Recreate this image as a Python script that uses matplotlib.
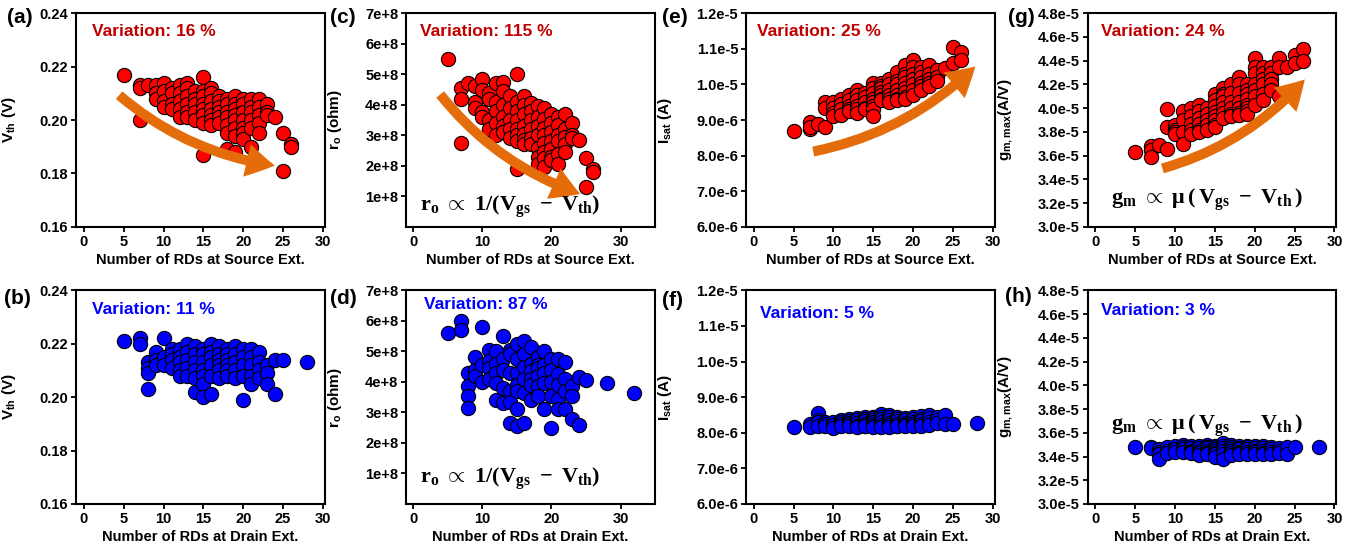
import matplotlib
matplotlib.use('Agg')
import matplotlib.pyplot as plt
from matplotlib.patches import FancyArrowPatch, ArrowStyle

# ---- data: number of RDs (random dopants) per device ----
src_rds = [5, 7, 7, 7, 8, 9, 9, 9, 10, 10, 10, 10, 11, 11, 11, 11,
           12, 12, 12, 12, 12, 13, 13, 13, 13, 13, 13, 14, 14, 14, 14, 14,
           15, 15, 15, 15, 15, 15, 15, 15, 16, 16, 16, 16, 16, 16, 16,
           17, 17, 17, 17, 17, 17, 18, 18, 18, 18, 18, 18, 18,
           19, 19, 19, 19, 19, 19, 19, 19, 20, 20, 20, 20, 20, 20, 20,
           21, 21, 21, 21, 21, 21, 22, 22, 22, 22, 22, 23, 23, 23, 24,
           25, 25, 26, 26]

vth_src = [0.217, 0.213, 0.212, 0.200, 0.213, 0.213, 0.210, 0.208,
           0.214, 0.211, 0.207, 0.205, 0.212, 0.210, 0.206, 0.204,
           0.213, 0.210, 0.207, 0.204, 0.201, 0.214, 0.212, 0.209, 0.206, 0.203, 0.201,
           0.211, 0.208, 0.206, 0.203, 0.200,
           0.216, 0.211, 0.209, 0.206, 0.204, 0.202, 0.199, 0.187,
           0.212, 0.210, 0.207, 0.204, 0.202, 0.200, 0.198,
           0.209, 0.207, 0.205, 0.203, 0.201, 0.199,
           0.208, 0.206, 0.203, 0.201, 0.198, 0.195, 0.189,
           0.209, 0.206, 0.204, 0.202, 0.200, 0.197, 0.194, 0.188,
           0.208, 0.206, 0.203, 0.200, 0.197, 0.195, 0.193,
           0.208, 0.205, 0.203, 0.200, 0.197, 0.190,
           0.208, 0.205, 0.202, 0.199, 0.195, 0.206, 0.203, 0.202, 0.201,
           0.195, 0.181, 0.191, 0.190]

ro_src = [5.5, 4.55, 4.2, 2.75, 4.7, 4.6, 4.1, 3.9,
          4.85, 4.5, 3.75, 3.6, 4.4, 4.2, 3.5, 3.2,
          4.7, 4.1, 3.8, 3.4, 3.0, 4.75, 4.45, 4.0, 3.6, 3.3, 3.1,
          4.3, 3.9, 3.5, 3.2, 2.9,
          5.0, 4.1, 3.8, 3.5, 3.2, 3.0, 2.8, 1.9,
          4.3, 4.0, 3.7, 3.3, 3.05, 2.85, 2.7,
          4.05, 3.8, 3.5, 3.2, 2.9, 2.7,
          3.95, 3.6, 3.3, 3.0, 2.6, 2.3, 2.05,
          3.9, 3.55, 3.25, 3.0, 2.75, 2.45, 2.25, 1.95,
          3.7, 3.4, 3.1, 2.8, 2.55, 2.3, 2.2,
          3.6, 3.35, 3.0, 2.8, 2.4, 2.05,
          3.7, 3.2, 2.95, 2.7, 2.45, 3.4, 3.0, 2.9, 2.85,
          2.25, 1.3, 1.9, 1.8]  # x1e8 ohm

isat_src = [8.7, 8.95, 8.75, 8.8, 8.9, 9.5, 9.35, 8.8,
            9.5, 9.35, 9.2, 9.1, 9.6, 9.45, 9.3, 9.15,
            9.7, 9.55, 9.4, 9.3, 9.25, 9.85, 9.7, 9.55, 9.4, 9.3, 9.2,
            9.75, 9.65, 9.5, 9.35, 9.3,
            10.05, 9.9, 9.75, 9.6, 9.5, 9.4, 9.3, 9.1,
            10.05, 9.95, 9.9, 9.8, 9.7, 9.6, 9.55,
            10.15, 10.0, 9.85, 9.7, 9.6, 9.5,
            10.35, 10.1, 10.0, 9.85, 9.7, 9.6, 9.55,
            10.55, 10.3, 10.2, 10.05, 9.9, 9.8, 9.65, 9.6,
            10.7, 10.5, 10.3, 10.15, 10.0, 9.85, 9.7,
            10.5, 10.35, 10.2, 10.05, 9.95, 9.85,
            10.55, 10.3, 10.15, 10.05, 9.95, 10.4, 10.2, 10.1, 10.45,
            11.05, 10.6, 10.9, 10.7]  # x1e-6 A

gm_src = [3.63, 3.68, 3.65, 3.59, 3.69, 3.99, 3.84, 3.66,
          3.86, 3.82, 3.80, 3.78, 3.98, 3.90, 3.80, 3.70,
          4.00, 3.93, 3.87, 3.82, 3.78, 4.03, 3.98, 3.92, 3.87, 3.82, 3.80,
          4.00, 3.95, 3.90, 3.86, 3.82,
          4.12, 4.07, 4.02, 3.97, 3.93, 3.90, 3.86, 3.84,
          4.17, 4.12, 4.10, 4.05, 4.00, 3.96, 3.92,
          4.20, 4.13, 4.05, 4.00, 3.95, 3.93,
          4.26, 4.20, 4.13, 4.05, 4.00, 3.96, 3.94,
          4.20, 4.15, 4.12, 4.08, 4.03, 4.00, 3.98, 3.95,
          4.42, 4.35, 4.30, 4.20, 4.15, 4.10, 4.03,
          4.35, 4.30, 4.25, 4.20, 4.12, 4.07,
          4.35, 4.30, 4.25, 4.20, 4.15, 4.42, 4.35, 4.10, 4.35,
          4.45, 4.38, 4.50, 4.40]  # x1e-5 A/V

drn_rds = [5, 7, 7, 8, 8, 8, 8, 9, 9, 9, 10, 10, 10, 11, 11, 11, 11,
           12, 12, 12, 12, 12, 13, 13, 13, 13, 13, 14, 14, 14, 14, 14, 14,
           15, 15, 15, 15, 15, 15, 15, 16, 16, 16, 16, 16, 16,
           17, 17, 17, 17, 17, 17, 18, 18, 18, 18, 18, 18,
           19, 19, 19, 19, 19, 20, 20, 20, 20, 20, 21, 21, 21, 21, 21,
           22, 22, 22, 22, 23, 23, 23, 24, 24, 25, 28, 32]

vth_drn = [0.221, 0.222, 0.220, 0.213, 0.211, 0.209, 0.203, 0.217, 0.214, 0.212,
           0.222, 0.215, 0.212, 0.218, 0.216, 0.214, 0.211,
           0.218, 0.215, 0.213, 0.210, 0.208, 0.220, 0.217, 0.214, 0.211, 0.208,
           0.219, 0.216, 0.213, 0.210, 0.207, 0.202,
           0.218, 0.216, 0.213, 0.210, 0.208, 0.205, 0.200,
           0.220, 0.217, 0.215, 0.212, 0.208, 0.201,
           0.219, 0.216, 0.214, 0.212, 0.210, 0.207,
           0.218, 0.216, 0.214, 0.212, 0.210, 0.208,
           0.219, 0.216, 0.213, 0.210, 0.207, 0.218, 0.215, 0.212, 0.208, 0.199,
           0.218, 0.215, 0.212, 0.208, 0.205,
           0.217, 0.213, 0.210, 0.207, 0.212, 0.209, 0.205, 0.214, 0.201,
           0.214, 0.213, 0.212]

ro_drn = [5.6, 6.0, 5.7, 4.3, 3.85, 3.55, 3.15, 4.8, 4.4, 4.2,
          5.8, 4.55, 4.0, 5.05, 4.7, 4.45, 4.1,
          5.0, 4.6, 4.3, 3.95, 3.4, 5.5, 4.75, 4.4, 3.8, 3.3,
          5.05, 4.9, 4.3, 3.7, 3.35, 2.65,
          5.25, 4.75, 4.3, 3.9, 3.7, 3.1, 2.55,
          5.35, 4.9, 4.5, 4.1, 3.65, 2.65,
          5.15, 4.6, 4.35, 4.1, 3.9, 3.4,
          4.8, 4.55, 4.45, 4.2, 3.85, 3.55,
          5.0, 4.55, 4.3, 3.95, 3.1, 4.75, 4.4, 4.0, 3.55, 2.5,
          4.75, 4.25, 3.9, 3.45, 3.1,
          4.65, 4.1, 3.7, 3.1, 3.85, 3.55, 2.8, 4.15, 2.6,
          4.05, 3.95, 3.65]  # x1e8 ohm

isat_drn = [8.17, 8.25, 8.15, 8.55, 8.35, 8.3, 8.2, 8.3, 8.25, 8.18,
            8.3, 8.22, 8.12, 8.35, 8.3, 8.25, 8.2,
            8.38, 8.32, 8.28, 8.24, 8.2, 8.42, 8.35, 8.28, 8.2, 8.15,
            8.45, 8.4, 8.32, 8.26, 8.2, 8.18,
            8.45, 8.42, 8.35, 8.3, 8.25, 8.2, 8.15,
            8.52, 8.45, 8.38, 8.3, 8.22, 8.15,
            8.5, 8.44, 8.35, 8.28, 8.22, 8.17,
            8.45, 8.38, 8.32, 8.26, 8.2, 8.18,
            8.42, 8.35, 8.28, 8.22, 8.18, 8.45, 8.38, 8.3, 8.24, 8.18,
            8.48, 8.4, 8.32, 8.25, 8.18,
            8.5, 8.42, 8.3, 8.22, 8.45, 8.35, 8.28, 8.5, 8.25,
            8.26, 8.28, 8.3]  # x1e-6 A

gm_drn = [3.48, 3.48, 3.47, 3.46, 3.44, 3.42, 3.38, 3.48, 3.45, 3.43,
          3.49, 3.46, 3.44, 3.50, 3.48, 3.46, 3.44,
          3.49, 3.47, 3.45, 3.44, 3.43, 3.49, 3.47, 3.45, 3.43, 3.41,
          3.50, 3.48, 3.47, 3.45, 3.43, 3.42,
          3.49, 3.48, 3.46, 3.45, 3.43, 3.42, 3.40,
          3.51, 3.49, 3.47, 3.45, 3.42, 3.38,
          3.50, 3.48, 3.46, 3.45, 3.43, 3.41,
          3.49, 3.47, 3.46, 3.44, 3.43, 3.42,
          3.49, 3.48, 3.46, 3.44, 3.42, 3.49, 3.47, 3.45, 3.44, 3.42,
          3.49, 3.47, 3.45, 3.43, 3.42,
          3.48, 3.46, 3.44, 3.42, 3.47, 3.45, 3.43, 3.48, 3.42,
          3.48, 3.48, 3.47]  # x1e-5 A/V

variation_src = [16, 115, 25, 24]
variation_drn = [11, 87, 5, 3]

vth_ticks = [0.16, 0.18, 0.20, 0.22, 0.24]
vth_labels = ['0.16', '0.18', '0.20', '0.22', '0.24']
ro_ticks = [1e8, 2e8, 3e8, 4e8, 5e8, 6e8, 7e8]
ro_labels = ['1e+8', '2e+8', '3e+8', '4e+8', '5e+8', '6e+8', '7e+8']
isat_ticks = [6e-6, 7e-6, 8e-6, 9e-6, 1.0e-5, 1.1e-5, 1.2e-5]
isat_labels = ['6.0e-6', '7.0e-6', '8.0e-6', '9.0e-6', '1.0e-5', '1.1e-5', '1.2e-5']
gm_ticks = [3.0e-5, 3.2e-5, 3.4e-5, 3.6e-5, 3.8e-5, 4.0e-5, 4.2e-5, 4.4e-5, 4.6e-5, 4.8e-5]
gm_labels = ['3.0e-5', '3.2e-5', '3.4e-5', '3.6e-5', '3.8e-5', '4.0e-5',
             '4.2e-5', '4.4e-5', '4.6e-5', '4.8e-5']

plt.rcParams.update({
    'font.family': 'Liberation Sans',
    'font.weight': 'bold',
    'axes.labelweight': 'bold',
    'font.size': 10.5,
    'axes.linewidth': 1.5,
    'xtick.direction': 'out',
    'ytick.direction': 'out',
    'xtick.major.size': 3.5,
    'ytick.major.size': 3.5,
    'xtick.major.width': 1.3,
    'ytick.major.width': 1.3,
    'mathtext.fontset': 'custom',
    'mathtext.rm': 'Liberation Sans:bold',
    'mathtext.it': 'Liberation Sans:bold',
    'mathtext.bf': 'Liberation Serif:bold',
})

RED_PT = '#FF0000'
BLUE_PT = '#0000FF'
RED_TXT = '#C00000'
BLUE_TXT = '#0000FF'
ORANGE = '#E46C0A'

fig = plt.figure(figsize=(13.56, 5.52), dpi=100)

lefts = [0.056, 0.2995, 0.550, 0.802]
width = 0.1836
row_bottom = {'top': 0.589, 'bot': 0.087}
height = 0.387

ro_formula = r'$\mathbf{r_o}\;\propto\;\mathbf{1/(V_{gs}\;-\;V_{th})}$'
gm_formula = r'$\mathbf{g_m}\;\propto\;\mathbf{\mu\,(\,V_{gs}\;-\;V_{th}\,)}$'


def style_axis(ax, xmax, xticks, ylim, yticks, ylabels, ylabel, xlabel, ylab_x):
    ax.set_xlim(-1, xmax)
    ax.set_xticks(xticks)
    ax.set_ylim(*ylim)
    ax.set_yticks(yticks)
    ax.set_yticklabels(ylabels)
    ax.set_ylabel(ylabel, fontsize=11)
    ax.yaxis.set_label_coords(ylab_x, 0.5)
    ax.set_xlabel(xlabel, fontsize=10.5, labelpad=3)
    ax.tick_params(labelsize=10.5, pad=2)


def add_arrow(ax, start, end):
    arr = FancyArrowPatch(start, end, transform=ax.transAxes,
                          arrowstyle=ArrowStyle.Simple(head_length=1.7, head_width=2.0, tail_width=0.6),
                          mutation_scale=12, connectionstyle='arc3,rad=0.15',
                          color=ORANGE, lw=0, zorder=5)
    ax.add_patch(arr)


panels = [
    # row, col, x, y, scale, ylim, ticks, labels, ylabel, tag
    ('top', 0, src_rds, vth_src, 1.0, (0.16, 0.24), vth_ticks, vth_labels, r'V$_\mathrm{th}$ (V)', '(a)'),
    ('top', 1, src_rds, ro_src, 1e8, (0, 7e8), ro_ticks, ro_labels, r'r$_\mathrm{o}$ (ohm)', '(c)'),
    ('top', 2, src_rds, isat_src, 1e-6, (6e-6, 1.2e-5), isat_ticks, isat_labels, r'I$_\mathrm{sat}$ (A)', '(e)'),
    ('top', 3, src_rds, gm_src, 1e-5, (3e-5, 4.8e-5), gm_ticks, gm_labels, r'g$_\mathrm{m,max}$(A/V)', '(g)'),
    ('bot', 0, drn_rds, vth_drn, 1.0, (0.16, 0.24), vth_ticks, vth_labels, r'V$_\mathrm{th}$ (V)', '(b)'),
    ('bot', 1, drn_rds, ro_drn, 1e8, (0, 7e8), ro_ticks, ro_labels, r'r$_\mathrm{o}$ (ohm)', '(d)'),
    ('bot', 2, drn_rds, isat_drn, 1e-6, (6e-6, 1.2e-5), isat_ticks, isat_labels, r'I$_\mathrm{sat}$ (A)', '(f)'),
    ('bot', 3, drn_rds, gm_drn, 1e-5, (3e-5, 4.8e-5), gm_ticks, gm_labels, r'g$_\mathrm{m,max}$(A/V)', '(h)'),
]

ylab_xs = [-0.233, -0.25, -0.287, -0.293]
var_pos_top = [(0.064, 0.915), (0.057, 0.915), (0.045, 0.915), (0.056, 0.915)]
var_pos_bot = [(0.064, 0.91), (0.07, 0.934), (0.057, 0.89), (0.056, 0.906)]
tag_pos_top = [(0.005, 0.968), (0.243, 0.968), (0.488, 0.968), (0.743, 0.968)]
tag_pos_bot = [(0.003, 0.46), (0.243, 0.46), (0.488, 0.456), (0.741, 0.463)]

for row, col, xs, ys, scale, ylim, yt, yl, ylabel, tag in panels:
    ax = fig.add_axes([lefts[col], row_bottom[row], width, height])
    yvals = [v * scale for v in ys]
    is_top = row == 'top'
    ax.scatter(xs, yvals, s=105, color=RED_PT if is_top else BLUE_PT,
               edgecolors='black', linewidths=0.8, zorder=3, clip_on=True)
    if col == 1:
        xmax, xticks = 35, [0, 10, 20, 30]
    else:
        xmax, xticks = 30.25, [0, 5, 10, 15, 20, 25, 30]
    xlabel = 'Number of RDs at Source Ext.' if is_top else 'Number of RDs at Drain Ext.'
    style_axis(ax, xmax, xticks, ylim, yt, yl, ylabel, xlabel, ylab_xs[col])

    if is_top:
        vx, vy = var_pos_top[col]
        ax.text(vx, vy, f'Variation: {variation_src[col]} %', transform=ax.transAxes,
                color=RED_TXT, fontsize=12.5, fontweight='bold', va='center', ha='left')
        tx, ty = tag_pos_top[col]
    else:
        vx, vy = var_pos_bot[col]
        ax.text(vx, vy, f'Variation: {variation_drn[col]} %', transform=ax.transAxes,
                color=BLUE_TXT, fontsize=12.5, fontweight='bold', va='center', ha='left')
        tx, ty = tag_pos_bot[col]
    fig.text(tx, ty, tag, fontsize=15, fontweight='bold', va='center', ha='left')

    # orange trend arrows on the source-side panels
    if is_top and col == 0:
        add_arrow(ax, (0.165, 0.625), (0.81, 0.285))
    if is_top and col == 1:
        add_arrow(ax, (0.13, 0.63), (0.71, 0.15))
    if is_top and col == 2:
        add_arrow(ax, (0.26, 0.35), (0.93, 0.76))
    if is_top and col == 3:
        add_arrow(ax, (0.29, 0.27), (0.88, 0.70))

    if col == 1:
        ax.text(0.42, 0.093 if is_top else 0.12, ro_formula, transform=ax.transAxes,
                fontsize=16, ha='center', va='center', zorder=6)
    if col == 3:
        ax.text(0.48, 0.126 if is_top else 0.366, gm_formula, transform=ax.transAxes,
                fontsize=16, ha='center', va='center', zorder=6)

fig.savefig('out.png', dpi=100)
